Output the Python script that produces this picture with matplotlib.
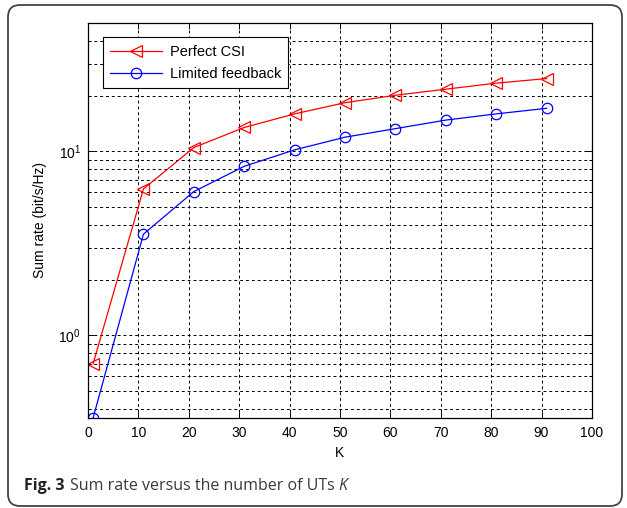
import matplotlib
matplotlib.use("Agg")
import matplotlib.pyplot as plt
from matplotlib.patches import FancyBboxPatch
from matplotlib.ticker import LogLocator, NullFormatter, FixedLocator
from matplotlib.transforms import IdentityTransform

# data
K = [1, 11, 21, 31, 41, 51, 61, 71, 81, 91]
perfect_csi = [0.70, 6.25, 10.5, 13.5, 16.0, 18.4, 20.2, 21.8, 23.5, 24.9]
limited_fb = [0.355, 3.55, 6.05, 8.3, 10.2, 11.95, 13.3, 14.8, 16.0, 17.15]
labels = ["Perfect CSI", "Limited feedback"]
x_ticks = list(range(0, 101, 10))

plt.rcParams['font.family'] = ['Liberation Sans', 'DejaVu Sans']
plt.rcParams['mathtext.default'] = 'regular'

fig = plt.figure(figsize=(6.27, 5.08), dpi=100)
ax = fig.add_axes([0.1404, 0.177, 0.8036, 0.778])

ax.plot(K, perfect_csi, color='#ff0000', lw=0.9, marker='<', ms=8.5,
        mfc='none', mec='#ff0000', mew=0.9, label=labels[0])
ax.plot(K, limited_fb, color='#0000ff', lw=0.9, marker='o', ms=7.5,
        mfc='none', mec='#0000ff', mew=0.9, label=labels[1])

ax.set_yscale('log')
ax.set_xlim(0, 100)
ax.set_ylim(0.355, 50)
ax.xaxis.set_major_locator(FixedLocator(x_ticks))
ax.yaxis.set_major_locator(LogLocator(base=10))
ax.yaxis.set_minor_locator(LogLocator(base=10, subs=range(2, 10)))
ax.yaxis.set_minor_formatter(NullFormatter())

gridstyle = dict(color='black', linestyle=(0, (3, 3)), linewidth=0.7)
ax.grid(True, which='major', axis='both', **gridstyle)
ax.grid(True, which='minor', axis='y', **gridstyle)

ax.tick_params(which='both', direction='in', top=True, right=True,
               labelsize=10, width=0.7)
ax.tick_params(which='major', length=4)
ax.tick_params(which='minor', length=2.5)
ax.tick_params(axis='x', pad=6)
ax.tick_params(axis='y', pad=5)
for sp in ax.spines.values():
    sp.set_linewidth(0.9)

ax.set_xlabel("K", fontsize=10, labelpad=4)
ax.set_ylabel("Sum rate (bit/s/Hz)", fontsize=10, labelpad=8)

leg = ax.legend(loc='upper left', fontsize=10.5, handlelength=3.6,
                borderaxespad=1.0, fancybox=False, framealpha=1,
                edgecolor='black', borderpad=0.5, labelspacing=0.55,
                handletextpad=0.5)
leg.get_frame().set_linewidth(0.8)

# rounded frame around figure + caption
box = FancyBboxPatch((8, 2), 614, 501, boxstyle="round,pad=0,rounding_size=12",
                     transform=IdentityTransform(), fill=False,
                     edgecolor='#444444', linewidth=1.3)
fig.add_artist(box)

cap_font = ['Open Sans', 'DejaVu Sans']
fig.canvas.draw()
r = fig.canvas.get_renderer()
t1 = fig.text(24 / 627, 1 - 486 / 508, "Fig. 3", family=cap_font, weight='bold',
              fontsize=11.5, color='#222222', va='center')
bb = t1.get_window_extent(r)
t2 = fig.text((bb.x1 + 5) / 627, 1 - 486 / 508, "Sum rate versus the number of UTs",
              family=cap_font, fontsize=11.5, color='#3a3a3a', va='center')
bb2 = t2.get_window_extent(r)
fig.text((bb2.x1 + 4) / 627, 1 - 486 / 508, "K", family=cap_font, style='italic',
         fontsize=11.5, color='#3a3a3a', va='center')

fig.savefig("out.png", dpi=100)
